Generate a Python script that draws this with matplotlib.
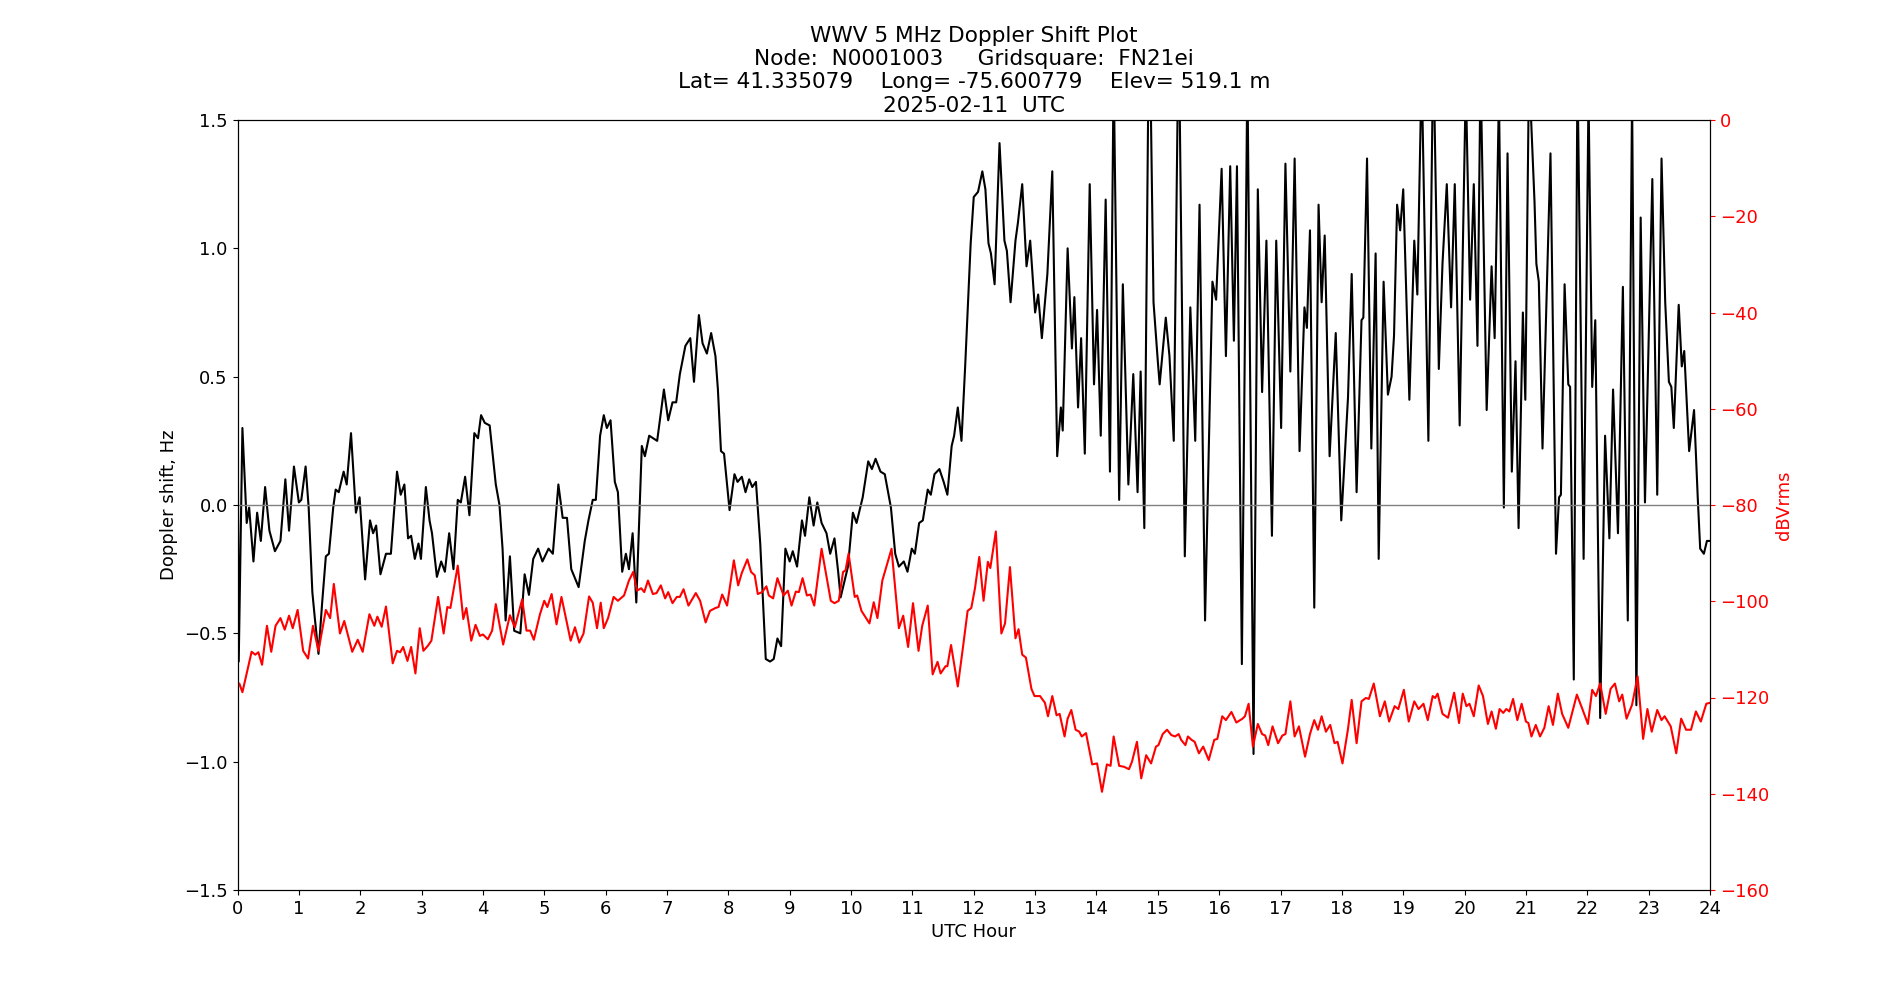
import matplotlib
matplotlib.use('Agg')
import matplotlib.pyplot as plt

# Doppler shift (Hz), hour of day -> value
doppler_hours = [
    0.00, 0.02, 0.08, 0.15, 0.19, 0.26, 0.32, 0.38, 0.45, 0.52, 0.61, 0.70, 0.78, 0.84, 0.92, 1.00,
    1.04, 1.11, 1.16, 1.22, 1.26, 1.32, 1.38, 1.44, 1.49, 1.56, 1.60, 1.65, 1.73, 1.78, 1.85, 1.93,
    1.99, 2.08, 2.16, 2.21, 2.26, 2.33, 2.42, 2.50, 2.60, 2.66, 2.72, 2.78, 2.83, 2.89, 2.95,
    2.99, 3.07, 3.13, 3.17, 3.25, 3.32, 3.38, 3.45, 3.52, 3.59, 3.64, 3.71, 3.78, 3.86, 3.92, 3.97,
    4.03, 4.11, 4.21, 4.27, 4.32, 4.37, 4.44, 4.51, 4.61, 4.68, 4.75, 4.82, 4.90, 4.97, 5.07, 5.14,
    5.23, 5.30, 5.37, 5.44, 5.56, 5.66, 5.72, 5.79, 5.84, 5.91,
    5.97, 6.02, 6.08, 6.15, 6.20, 6.27, 6.33, 6.38, 6.44, 6.50, 6.59, 6.64, 6.71, 6.84, 6.95, 7.02,
    7.09, 7.15, 7.21, 7.30, 7.38, 7.44, 7.52, 7.58, 7.65, 7.72, 7.79, 7.83, 7.88, 7.93, 8.02, 8.10,
    8.15, 8.22, 8.28, 8.34, 8.39, 8.45, 8.52, 8.61, 8.68, 8.74, 8.80, 8.86, 8.93,
    9.00, 9.05, 9.12, 9.20, 9.25, 9.32, 9.39, 9.45, 9.52, 9.60, 9.66, 9.73, 9.79, 9.83, 9.90, 9.95,
    10.03, 10.09, 10.19, 10.28, 10.34, 10.40, 10.48, 10.55, 10.65, 10.72, 10.78, 10.86, 10.92, 10.99,
    11.04, 11.11, 11.17, 11.25, 11.30, 11.36, 11.44, 11.51, 11.57, 11.64, 11.68, 11.74, 11.80, 11.86,
    11.95, 12.00, 12.07, 12.14, 12.19, 12.24, 12.28, 12.34, 12.42, 12.50, 12.54, 12.60, 12.68, 12.72,
    12.79, 12.86, 12.92, 13.00, 13.05, 13.11, 13.20, 13.28, 13.36, 13.42, 13.45,
    13.53, 13.60, 13.64, 13.70, 13.75, 13.81, 13.89, 13.96, 14.01, 14.07, 14.15, 14.22, 14.28, 14.37,
    14.43, 14.52, 14.60, 14.67, 14.72, 14.78, 14.86, 14.93, 15.00,
    15.03, 15.13, 15.19, 15.26, 15.34, 15.44, 15.53, 15.61, 15.68, 15.77, 15.89, 15.95, 16.04, 16.11,
    16.18, 16.24, 16.29, 16.37, 16.46,
    16.56, 16.63, 16.70, 16.77, 16.86, 16.93, 17.01, 17.08, 17.16, 17.23, 17.31, 17.39, 17.43, 17.48,
    17.55, 17.62, 17.67, 17.72, 17.80, 17.90, 17.99,
    18.10, 18.16, 18.24, 18.32, 18.35, 18.41, 18.48, 18.55, 18.60, 18.68, 18.75, 18.81, 18.85, 18.90,
    18.95, 19.00, 19.10, 19.18, 19.23, 19.30, 19.41, 19.49, 19.58,
    19.64, 19.71, 19.78, 19.84, 19.92, 20.02, 20.09, 20.15, 20.21, 20.26, 20.36, 20.44, 20.49, 20.56,
    20.64, 20.70, 20.77, 20.83, 20.88, 20.95, 20.99, 21.05,
    21.14, 21.17, 21.21, 21.27, 21.33, 21.40, 21.49, 21.54, 21.57, 21.63, 21.69, 21.72, 21.78, 21.84,
    21.94, 22.02, 22.08, 22.13, 22.21, 22.29, 22.36, 22.42, 22.50, 22.58, 22.66, 22.73,
    22.80, 22.87, 22.94, 23.06, 23.14, 23.21, 23.27, 23.33, 23.37, 23.41, 23.49, 23.54, 23.58, 23.66,
    23.74, 23.80, 23.84, 23.90, 23.95, 24.00,
]
doppler_hz = [
    0.50, -0.61, 0.30, -0.07, -0.01, -0.22, -0.03, -0.14, 0.07, -0.10, -0.18, -0.14, 0.10, -0.10, 0.15, 0.01,
    0.02, 0.15, -0.01, -0.34, -0.44, -0.58, -0.38, -0.20, -0.19, -0.01, 0.06, 0.05, 0.13, 0.08, 0.28, -0.03,
    0.03, -0.29, -0.06, -0.11, -0.08, -0.27, -0.19, -0.19, 0.13, 0.04, 0.08, -0.13, -0.12, -0.21, -0.15,
    -0.21, 0.07, -0.06, -0.11, -0.28, -0.22, -0.26, -0.11, -0.25, 0.02, 0.01, 0.11, -0.04, 0.28, 0.26, 0.35,
    0.32, 0.31, 0.08, 0.00, -0.17, -0.45, -0.20, -0.49, -0.50, -0.27, -0.35, -0.21, -0.17, -0.22, -0.17, -0.19,
    0.08, -0.05, -0.05, -0.25, -0.32, -0.14, -0.06, 0.02, 0.02, 0.27,
    0.35, 0.30, 0.33, 0.09, 0.05, -0.26, -0.19, -0.25, -0.11, -0.38, 0.23, 0.19, 0.27, 0.25, 0.45, 0.33,
    0.40, 0.40, 0.51, 0.62, 0.65, 0.48, 0.74, 0.63, 0.59, 0.67, 0.58, 0.45, 0.21, 0.20, -0.02, 0.12,
    0.09, 0.11, 0.05, 0.10, 0.07, 0.09, -0.15, -0.60, -0.61, -0.60, -0.52, -0.55, -0.17,
    -0.22, -0.18, -0.24, -0.06, -0.12, 0.03, -0.08, 0.01, -0.07, -0.11, -0.19, -0.13, -0.26, -0.36, -0.29, -0.24,
    -0.03, -0.07, 0.03, 0.17, 0.14, 0.18, 0.13, 0.12, -0.01, -0.19, -0.24, -0.22, -0.26, -0.17,
    -0.19, -0.07, -0.06, 0.06, 0.04, 0.12, 0.14, 0.09, 0.04, 0.23, 0.27, 0.38, 0.25, 0.54,
    1.02, 1.20, 1.22, 1.30, 1.23, 1.02, 0.98, 0.86, 1.41, 1.03, 0.99, 0.79, 1.03, 1.10,
    1.25, 0.93, 1.03, 0.75, 0.82, 0.65, 0.90, 1.30, 0.19, 0.38, 0.29,
    1.00, 0.61, 0.81, 0.38, 0.65, 0.20, 1.25, 0.47, 0.76, 0.27, 1.19, 0.13, 1.70, 0.02,
    0.86, 0.08, 0.51, 0.05, 0.52, -0.09, 2.00, 0.79, 0.56,
    0.47, 0.73, 0.58, 0.25, 1.90, -0.20, 0.77, 0.25, 1.17, -0.45, 0.87, 0.80, 1.31, 0.58,
    1.32, 0.64, 1.32, -0.62, 1.70,
    -0.97, 1.23, 0.44, 1.03, -0.12, 1.03, 0.30, 1.33, 0.52, 1.35, 0.21, 0.77, 0.69, 1.07,
    -0.40, 1.17, 0.79, 1.05, 0.19, 0.67, -0.06,
    0.42, 0.90, 0.05, 0.72, 0.73, 1.35, 0.22, 0.98, -0.21, 0.87, 0.43, 0.50, 0.66, 1.17,
    1.07, 1.23, 0.41, 1.03, 0.82, 1.70, 0.25, 1.80, 0.53,
    0.94, 1.25, 0.77, 1.25, 0.31, 1.65, 0.80, 1.25, 0.62, 1.70, 0.37, 0.93, 0.65, 1.60,
    -0.01, 1.37, 0.13, 0.56, -0.09, 0.75, 0.41, 1.70,
    1.18, 0.94, 0.87, 0.22, 0.75, 1.37, -0.19, 0.03, 0.04, 0.86, 0.47, 0.46, -0.68, 1.70,
    -0.21, 1.60, 0.46, 0.72, -0.83, 0.27, -0.13, 0.45, -0.11, 0.85, -0.45, 1.60,
    -0.78, 1.12, 0.01, 1.27, 0.04, 1.35, 0.79, 0.48, 0.46, 0.30, 0.78, 0.54, 0.60, 0.21,
    0.37, 0.03, -0.17, -0.19, -0.14, -0.14,
]

# Signal level (dBVrms)
level_hours = [
    0.00, 0.03, 0.08, 0.15, 0.23, 0.29, 0.34, 0.40, 0.48, 0.55, 0.62, 0.70, 0.77, 0.84, 0.90, 0.98,
    1.07, 1.15, 1.23, 1.32, 1.44, 1.51, 1.57, 1.67, 1.74, 1.87, 1.96, 2.04, 2.15, 2.23, 2.28, 2.35,
    2.42, 2.53, 2.60, 2.65, 2.70, 2.77, 2.83, 2.90,
    2.97, 3.03, 3.10, 3.16, 3.27, 3.36, 3.42, 3.47, 3.59, 3.68, 3.73, 3.81, 3.88, 3.95, 4.00, 4.08,
    4.15, 4.21, 4.33, 4.44, 4.52, 4.64, 4.71, 4.77, 4.83, 4.93, 5.00, 5.05, 5.12, 5.20, 5.28, 5.43,
    5.50, 5.57, 5.64, 5.73, 5.79, 5.86, 5.92,
    5.97, 6.04, 6.13, 6.20, 6.30, 6.38, 6.45, 6.51, 6.58, 6.63, 6.69, 6.77, 6.83, 6.90, 6.97, 7.02,
    7.09, 7.16, 7.21, 7.27, 7.35, 7.47, 7.54, 7.63, 7.70, 7.79, 7.84, 7.90, 7.98, 8.09, 8.16, 8.22,
    8.31, 8.37, 8.43, 8.48, 8.55, 8.62, 8.66, 8.73, 8.80, 8.90,
    8.97, 9.03, 9.10, 9.15, 9.21, 9.28, 9.34, 9.40, 9.52, 9.67, 9.73, 9.80, 9.87, 9.91, 9.96, 10.06,
    10.10, 10.17, 10.22, 10.30, 10.37, 10.43, 10.51, 10.66, 10.78, 10.85, 10.93, 11.01, 11.10, 11.16,
    11.25, 11.33, 11.41, 11.46, 11.54, 11.57, 11.63, 11.74, 11.83,
    11.90, 11.96, 12.02, 12.09, 12.16, 12.23, 12.27, 12.36, 12.45, 12.51, 12.59, 12.68, 12.73, 12.79,
    12.85, 12.94, 12.99, 13.08, 13.16, 13.21, 13.28, 13.35, 13.40,
    13.48, 13.53, 13.59, 13.66, 13.72, 13.76, 13.83, 13.93, 14.01, 14.09, 14.17, 14.23, 14.28, 14.37,
    14.45, 14.53, 14.58, 14.66, 14.73, 14.81, 14.89, 14.97,
    15.01, 15.08, 15.15, 15.22, 15.28, 15.34, 15.38, 15.45, 15.49, 15.55, 15.60, 15.67, 15.74, 15.83,
    15.92, 15.97, 16.05, 16.11, 16.20, 16.28, 16.38, 16.42, 16.48,
    16.55, 16.63, 16.70, 16.75, 16.80, 16.87, 16.96, 17.03, 17.08, 17.16, 17.23, 17.30, 17.40, 17.48,
    17.55, 17.61, 17.67, 17.74, 17.81, 17.88, 17.93, 18.01,
    18.10, 18.16, 18.24, 18.32, 18.39, 18.44, 18.52, 18.62, 18.70, 18.77, 18.86, 18.92, 19.01, 19.09,
    19.18, 19.25, 19.33, 19.40, 19.48, 19.52, 19.56,
    19.64, 19.73, 19.83, 19.91, 19.97, 20.03, 20.08, 20.15, 20.23, 20.30, 20.38, 20.44, 20.51, 20.57,
    20.63, 20.68, 20.73, 20.79, 20.86, 20.93, 21.00, 21.04, 21.09, 21.16,
    21.23, 21.30, 21.37, 21.44, 21.52, 21.59, 21.69, 21.83, 21.92, 22.01, 22.08, 22.14, 22.21, 22.30,
    22.38, 22.45, 22.52, 22.57, 22.64,
    22.73, 22.82, 22.91, 22.98, 23.05, 23.14, 23.21, 23.26, 23.36, 23.45, 23.53, 23.61, 23.69, 23.77,
    23.85, 23.94, 24.00,
]
level_db = [
    -117.1, -117.1, -118.9, -115.0, -110.5, -111.1, -110.6, -113.2, -105.1, -110.5, -105.1, -103.5, -105.9, -103.0, -105.6, -101.8,
    -110.3, -111.9, -105.1, -110.3, -101.8, -103.5, -96.4, -106.7, -104.1, -110.5, -108.0, -110.5, -102.7, -105.1, -103.2, -105.3,
    -101.1, -112.9, -110.3, -110.6, -109.5, -112.4, -109.5, -115.0,
    -105.6, -110.3, -109.3, -108.2, -99.1, -106.7, -101.2, -101.4, -92.6, -103.7, -101.4, -108.2, -104.9, -107.2, -106.9, -107.9,
    -106.1, -100.6, -109.0, -102.9, -105.4, -99.6, -106.1, -106.1, -108.0, -102.7, -99.9, -101.2, -98.5, -104.8, -99.1, -108.2,
    -105.4, -108.6, -106.7, -99.0, -100.3, -105.6, -100.3,
    -105.6, -103.5, -99.1, -99.9, -98.8, -95.7, -93.9, -97.8, -97.3, -98.1, -95.7, -98.5, -98.3, -96.7, -99.4, -98.1,
    -100.4, -99.1, -99.1, -97.5, -100.9, -98.3, -99.9, -104.4, -102.0, -101.4, -101.2, -98.6, -100.9, -91.5, -96.7, -94.1,
    -91.3, -93.9, -94.6, -98.5, -98.1, -96.9, -98.8, -99.4, -95.2, -98.8,
    -97.8, -100.9, -98.0, -98.1, -95.2, -98.8, -98.6, -100.9, -89.1, -99.9, -100.4, -99.9, -93.9, -93.6, -90.1, -99.1,
    -98.8, -102.0, -103.0, -104.6, -100.2, -103.5, -95.7, -89.1, -105.6, -103.0, -109.5, -100.4, -110.3, -105.1,
    -100.9, -115.2, -112.6, -115.0, -113.5, -113.5, -109.1, -117.7, -109.0,
    -102.0, -101.4, -97.3, -90.8, -99.9, -91.8, -93.1, -85.5, -106.7, -104.6, -92.9, -107.7, -105.8, -111.1,
    -111.7, -118.2, -119.7, -119.7, -121.1, -123.9, -119.7, -123.7, -123.4,
    -128.1, -124.4, -122.6, -126.7, -127.1, -128.1, -127.4, -133.9, -133.7, -139.6, -133.9, -134.2, -128.1, -134.2,
    -134.4, -134.9, -133.3, -129.2, -136.8, -132.0, -133.7, -130.2,
    -129.9, -127.6, -126.7, -127.8, -128.1, -127.6, -128.8, -129.9, -128.1, -128.8, -129.2, -131.6, -130.2, -133.0,
    -128.8, -128.6, -123.9, -124.7, -123.0, -125.2, -124.4, -123.9, -121.3,
    -130.2, -125.5, -127.6, -127.9, -129.9, -126.0, -129.5, -127.9, -127.6, -120.8, -128.1, -126.0, -132.3, -127.6,
    -124.7, -126.7, -123.9, -127.1, -125.7, -129.5, -129.2, -133.7,
    -126.5, -120.5, -129.5, -120.8, -120.1, -120.3, -117.1, -123.9, -120.8, -125.0, -121.8, -122.4, -118.4, -125.0,
    -120.8, -122.4, -121.3, -124.7, -119.7, -120.1, -119.2,
    -123.4, -124.2, -119.0, -125.3, -119.2, -121.8, -121.3, -123.9, -117.5, -119.7, -125.5, -122.9, -126.5, -122.4,
    -123.2, -122.4, -122.9, -120.3, -124.7, -121.3, -125.0, -125.3, -128.1, -125.7,
    -128.1, -126.3, -121.8, -125.7, -119.2, -123.4, -126.3, -119.4, -122.4, -125.5, -118.4, -119.7, -117.1, -123.4,
    -118.2, -117.1, -120.8, -119.4, -124.4,
    -121.5, -115.6, -128.6, -122.4, -127.1, -122.6, -124.7, -123.9, -126.0, -131.6, -124.4, -126.7, -126.7, -122.9,
    -125.0, -121.3, -121.1,
]

hour_ticks = list(range(0, 25))
doppler_ticks = [-1.5, -1.0, -0.5, 0.0, 0.5, 1.0, 1.5]
db_ticks = list(range(-160, 1, 20))

plt.rcParams['font.size'] = 13

fig = plt.figure(figsize=(19, 10), dpi=100)
ax = fig.add_subplot(1, 1, 1)

ax.plot(doppler_hours, doppler_hz, color='black', linewidth=1.5)
ax.axhline(0, color='grey', linewidth=1)
ax.set_xlim(0, 24)
ax.set_ylim(-1.5, 1.5)
ax.set_xticks(hour_ticks)
ax.set_yticks(doppler_ticks)
ax.set_xlabel('UTC Hour')
ax.set_ylabel('Doppler shift, Hz')

# signal level on the right hand axis
ax2 = ax.twinx()
ax2.plot(level_hours, level_db, color='red', linewidth=1.5)
ax2.set_ylim(-160, 0)
ax2.set_yticks(db_ticks)
ax2.set_ylabel('dBVrms', color='red')
ax2.tick_params(axis='y', colors='red')

# title uses the default 'large' size
ax.set_title('WWV 5 MHz Doppler Shift Plot\n'
             'Node:  N0001003     Gridsquare:  FN21ei\n'
             'Lat= 41.335079    Long= -75.600779    Elev= 519.1 m\n'
             '2025-02-11  UTC')

fig.savefig('out.png', dpi=100)
